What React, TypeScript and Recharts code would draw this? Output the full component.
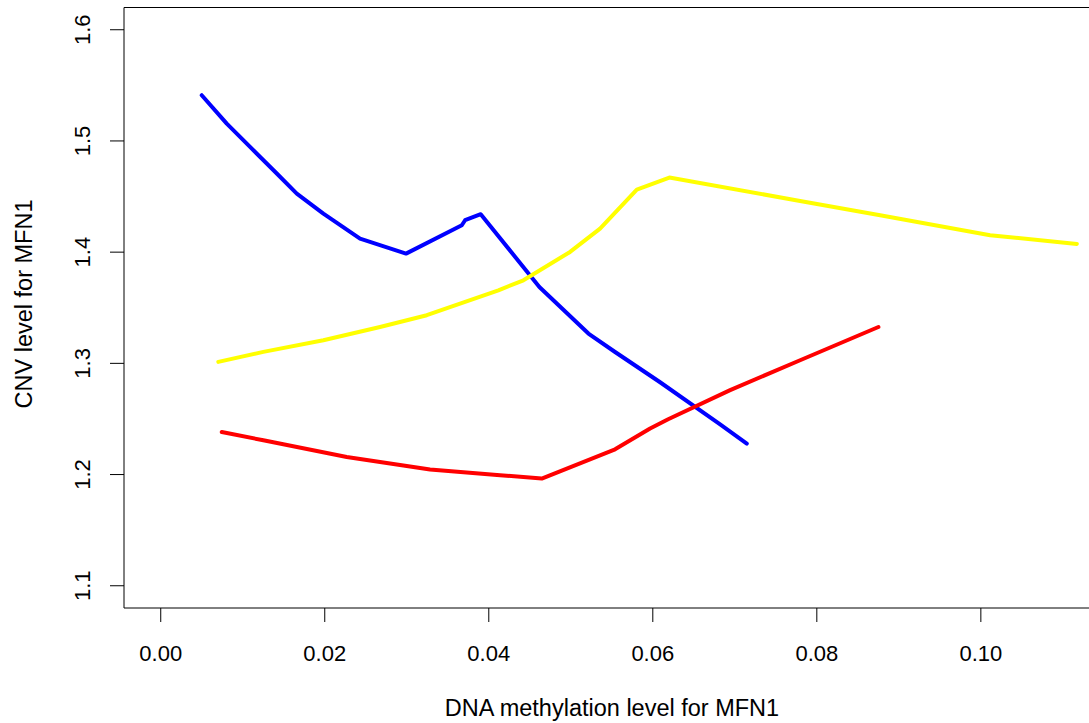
import React from "react";
import { LineChart, Line, XAxis, YAxis, ReferenceLine, Label } from "recharts";

// Blue series (x: DNA methylation, y: CNV)
const blueX = [0.005, 0.00805, 0.01089, 0.01415, 0.01659, 0.01983, 0.0243, 0.02991, 0.03671, 0.03711, 0.03902, 0.04617, 0.05215, 0.0554, 0.06089, 0.06821, 0.07146];
const blueY = [1.5411, 1.5156, 1.4946, 1.4707, 1.4527, 1.4347, 1.4122, 1.3987, 1.4242, 1.4287, 1.4341, 1.3687, 1.3268, 1.3102, 1.283, 1.2452, 1.2279];

// Yellow series
const yellowX = [0.00702, 0.01251, 0.01983, 0.02674, 0.03244, 0.04117, 0.04422, 0.04991, 0.05357, 0.05805, 0.06202, 0.07796, 0.08772, 0.10113, 0.11171];
const yellowY = [1.3013, 1.3103, 1.3208, 1.3327, 1.3433, 1.3657, 1.3747, 1.4002, 1.4212, 1.4563, 1.4671, 1.446, 1.4332, 1.4152, 1.4074];

// Red series
const redX = [0.00744, 0.01251, 0.02268, 0.03284, 0.04138, 0.04646, 0.0554, 0.05967, 0.06187, 0.06943, 0.07796, 0.08751];
const redY = [1.2383, 1.2308, 1.2158, 1.2045, 1.1994, 1.1964, 1.2227, 1.2414, 1.2497, 1.2759, 1.3028, 1.3327];

const xTicks = [0, 0.02, 0.04, 0.06, 0.08, 0.1];
const yTicks = [1.1, 1.2, 1.3, 1.4, 1.5, 1.6];
const xDomain: [number, number] = [-0.00448, 0.11648];
const yDomain: [number, number] = [1.08, 1.62];

const xTitle = "DNA methylation level for MFN1";
const yTitle = "CNV level for MFN1";

const toPoints = (xs: number[], ys: number[]) => xs.map((x, i) => ({ x, y: ys[i] }));
const blueData = toPoints(blueX, blueY);
const yellowData = toPoints(yellowX, yellowY);
const redData = toPoints(redX, redY);

const FONT = "'Liberation Sans', Arial, Helvetica, sans-serif";
const FS = 22;
const TFS = 23.5;

const XTick = (props: any) => {
  const { x, y, payload } = props;
  return (
    <text x={x} y={y + 36.5} textAnchor="middle" fontFamily={FONT} fontSize={FS} fill="#000">
      {Number(payload.value).toFixed(2)}
    </text>
  );
};

const YTick = (props: any) => {
  const { x, y, payload } = props;
  return (
    <text transform={`translate(${x - 18},${y}) rotate(-90)`} textAnchor="middle" fontFamily={FONT} fontSize={FS} fill="#000">
      {Number(payload.value).toFixed(1)}
    </text>
  );
};

export default function App() {
  return (
    <div style={{ position: "absolute", left: 0, top: 0, width: 1089, height: 723, overflow: "hidden", background: "#fff" }}>
      <LineChart width={1116} height={723} margin={{ top: 7.5, right: 0, bottom: 0, left: 0 }}>
        <XAxis
          type="number"
          dataKey="x"
          domain={xDomain}
          ticks={xTicks}
          allowDataOverflow
          height={115}
          tickSize={14}
          axisLine={{ stroke: "#000", strokeWidth: 1 }}
          tickLine={{ stroke: "#000", strokeWidth: 1 }}
          tick={<XTick />}
          interval={0}
        >
          <Label
            content={() => (
              <text x={612} y={716} textAnchor="middle" fontFamily={FONT} fontSize={TFS} fill="#000">
                {xTitle}
              </text>
            )}
          />
        </XAxis>
        <YAxis
          type="number"
          dataKey="y"
          domain={yDomain}
          ticks={yTicks}
          allowDataOverflow
          width={124}
          tickSize={14}
          axisLine={{ stroke: "#000", strokeWidth: 1 }}
          tickLine={{ stroke: "#000", strokeWidth: 1 }}
          tick={<YTick />}
          interval={0}
        >
          <Label
            content={() => (
              <text transform="translate(31.5,304) rotate(-90)" textAnchor="middle" fontFamily={FONT} fontSize={TFS} fill="#000">
                {yTitle}
              </text>
            )}
          />
        </YAxis>
        <ReferenceLine y={1.62} stroke="#000" strokeWidth={1} />
        <Line data={blueData} dataKey="y" type="linear" stroke="#0000FF" strokeWidth={4} dot={false} strokeLinecap="round" strokeLinejoin="round" isAnimationActive={false} />
        <Line data={yellowData} dataKey="y" type="linear" stroke="#FFFF00" strokeWidth={4} dot={false} strokeLinecap="round" strokeLinejoin="round" isAnimationActive={false} />
        <Line data={redData} dataKey="y" type="linear" stroke="#FF0000" strokeWidth={4} dot={false} strokeLinecap="round" strokeLinejoin="round" isAnimationActive={false} />
      </LineChart>
    </div>
  );
}
